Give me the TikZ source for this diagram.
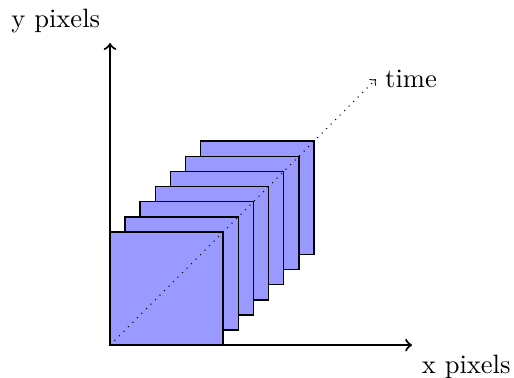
\documentclass[tikz,border=0pt]{standalone}
\begin{document}
\begin{tikzpicture}[
  framebox/.style={draw=black, semithick, fill=blue!40},
  axis/.style={thick, ->},
  timeline/.style={dotted, ->}
]
\useasboundingbox (-1.457,-0.424) rectangle (5.35,4.57);
\coordinate (O) at (0,0);
\coordinate (xend) at (4,0);
\coordinate (yend) at (0,4);
\coordinate (tend) at (3.52,3.52);
\foreach \i in {6,5,...,0}{
  \draw[framebox] (0.2*\i,0.2*\i) rectangle ++(1.5,1.5);
}
\draw[axis] (O) -- (xend) node[below right] (xl) {x pixels};
\draw[axis] (O) -- (yend) node[above left] (yl) {y pixels};
\draw[timeline] (O) -- (tend) node[right] (tl) {time};
\end{tikzpicture}
\end{document}
